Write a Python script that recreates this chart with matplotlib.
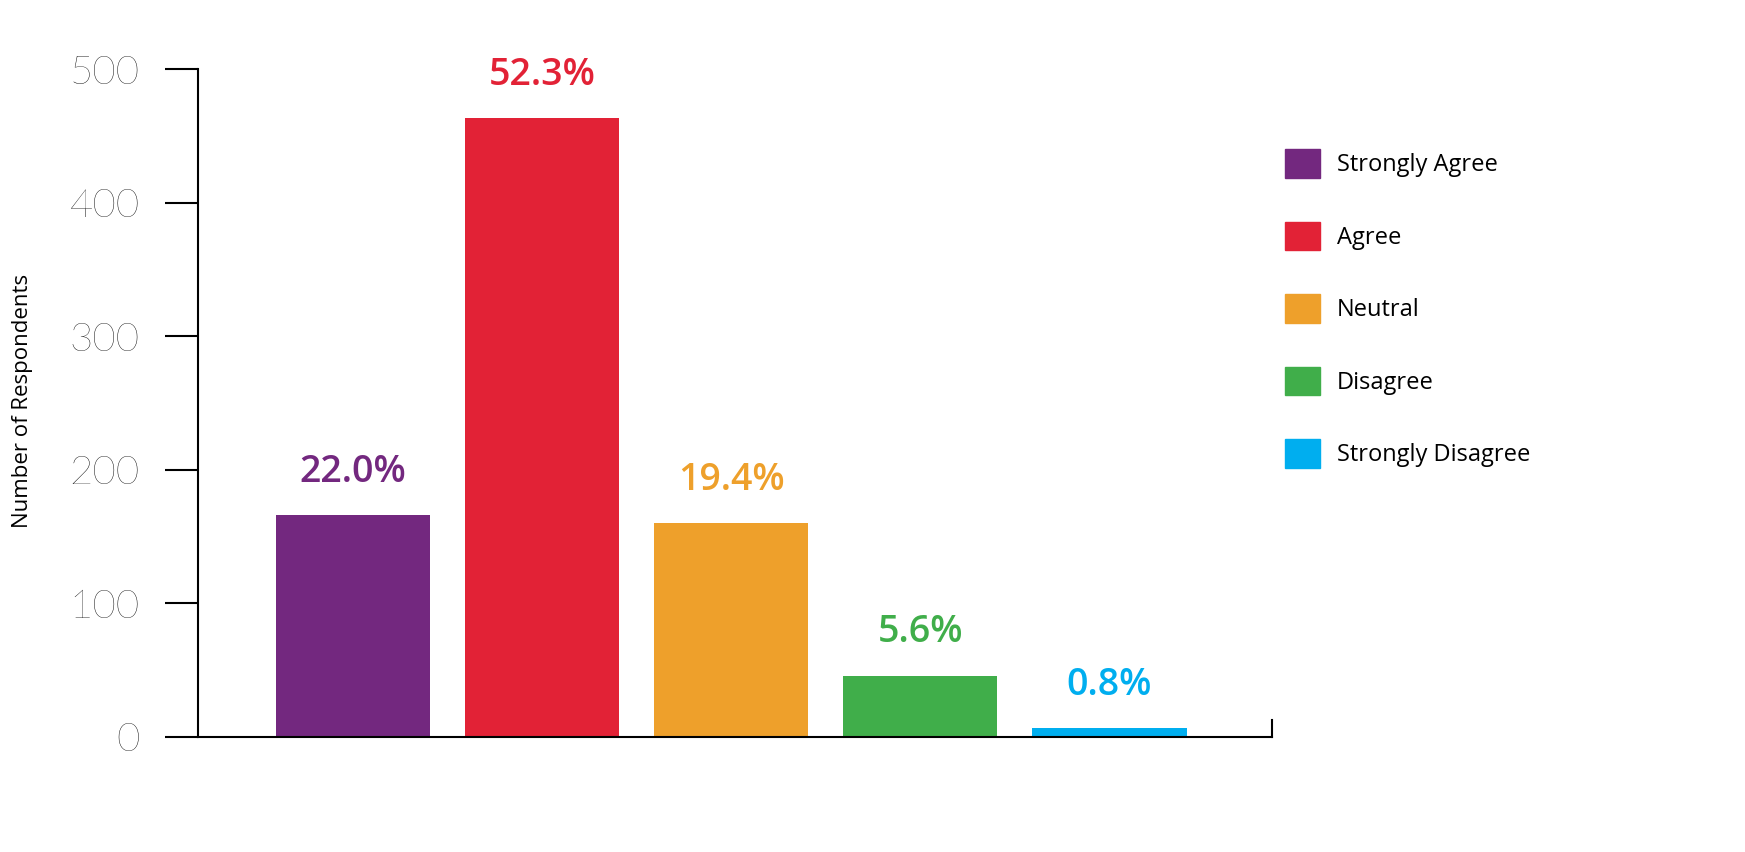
import matplotlib.pyplot as plt
from matplotlib.patches import Patch

categories = ['Strongly Agree', 'Agree', 'Neutral', 'Disagree', 'Strongly Disagree']
counts = [166, 463, 160, 46, 7]
pct_labels = ['22.0%', '52.3%', '19.4%', '5.6%', '0.8%']
colors = ['#73287F', '#E22236', '#EEA02B', '#40AE4A', '#00AEEF']

fig = plt.figure(figsize=(17.45, 8.52), dpi=100)
ax = fig.add_axes([0.1135, 0.135, 0.6155, 0.784])
x = range(len(categories))
ax.bar(x, counts, width=0.815, color=colors)
for i, (c, p) in enumerate(zip(counts, pct_labels)):
    ax.text(i, c + 18, p, ha='center', va='bottom', color=colors[i],
            fontsize=27, fontweight='semibold', family='Open Sans')

ax.set_xlim(-0.82, 4.86)
ax.set_ylim(0, 500)
ax.set_yticks([0, 100, 200, 300, 400, 500])
ax.tick_params(axis='y', direction='out', length=24, width=1.5, labelsize=29, pad=18)
for lab in ax.get_yticklabels():
    lab.set_family('Lato')
    lab.set_fontweight('light')
ax.set_xticks([])
for s in ['top', 'right']:
    ax.spines[s].set_visible(False)
ax.spines['left'].set_linewidth(1.5)
ax.spines['bottom'].set_linewidth(1.5)
ax.plot([4.86, 4.86], [0, 13], color='black', lw=1.5, clip_on=False)
fig.text(0.013, 0.53, 'Number of Respondents', rotation=90, ha='center', va='center',
         fontsize=16, family='Open Sans')

handles = [Patch(color=c) for c in colors]
fig.legend(handles, categories, loc='upper left', bbox_to_anchor=(0.724, 0.85),
           frameon=False, prop={'family': 'Open Sans', 'size': 17},
           handlelength=1.5, handleheight=1.5, labelspacing=1.85, handletextpad=0.7)

fig.savefig('out.png', dpi=100)
